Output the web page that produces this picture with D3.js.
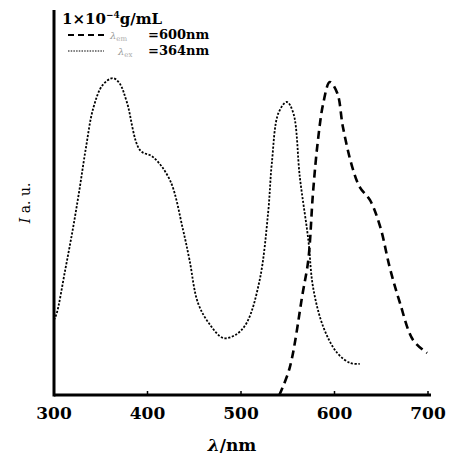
<!DOCTYPE html>
<html>
<head>
<meta charset="utf-8">
<script src="https://cdn.jsdelivr.net/npm/d3@7"></script>
<style>
  body { margin: 0; background: #fff; }
  text { font-family: "DejaVu Serif", "Liberation Serif", serif; fill: #000; }
</style>
</head>
<body>
<div id="chart"></div>
<script>
//
// Fluorescence excitation / emission spectra
//
const xTicks = [300, 400, 500, 600, 700]

// excitation spectrum (dotted)
const exWave = [300, 303, 312, 320, 327, 334, 342, 352, 363, 370, 378, 392, 406, 424, 438, 445, 454, 467, 481, 494, 506, 520, 529, 533, 540, 549, 556, 563, 572, 577, 588, 603, 617, 627]
const exInt  = [19.5, 21.3, 32.5, 42.9, 53, 64, 74.5, 80.5, 82.3, 81, 76, 63.6, 61.8, 55.8, 42.9, 35, 23.9, 18.2, 14.8, 15.6, 18.7, 29.9, 47.3, 60.3, 73.2, 76.1, 73.2, 56.4, 40.3, 28.1, 17.7, 10.9, 8.3, 8.1]

// emission spectrum (dashed)
const emWave = [541, 552, 566, 572, 577, 582, 588, 595, 603, 609, 619, 627, 638, 649, 659, 670, 684, 699]
const emInt  = [0, 7, 26.5, 35.1, 52.5, 65.5, 75.8, 81.3, 78.4, 69.6, 59.2, 54, 50.6, 43.6, 33.2, 23.9, 14.3, 10.9]

const W = 453, H = 455
const margin = { left: 54, right: 25, top: 10, bottom: 60 }

const svg = d3.select("#chart").append("svg")
  .attr("width", W).attr("height", H)

const x = d3.scaleLinear().domain([300, 700]).range([margin.left, 428])
const y = d3.scaleLinear().domain([0, 100]).range([H - margin.bottom, margin.top])

// axes
svg.append("line")
  .attr("x1", x(300)).attr("x2", 431)
  .attr("y1", y(0)).attr("y2", y(0))
  .attr("stroke", "#000").attr("stroke-width", 3)
svg.append("line")
  .attr("x1", x(300)).attr("x2", x(300))
  .attr("y1", y(0) + 1.5).attr("y2", y(100))
  .attr("stroke", "#000").attr("stroke-width", 3)

svg.selectAll("tick")
  .data(xTicks.slice(1))
  .enter().append("line")
    .attr("x1", d => x(d)).attr("x2", d => x(d))
    .attr("y1", y(0)).attr("y2", y(0) - 4)
    .attr("stroke", "#000").attr("stroke-width", 1.5)

svg.selectAll("ticklabel")
  .data(xTicks)
  .enter().append("text")
    .attr("x", d => x(d))
    .attr("y", 419)
    .attr("text-anchor", "middle")
    .attr("font-size", 17)
    .attr("font-weight", "bold")
    .text(d => d)

// axis titles
const xt = svg.append("text")
  .attr("x", 232).attr("y", 451)
  .attr("text-anchor", "middle")
  .attr("font-size", 17).attr("font-weight", "bold")
xt.append("tspan").attr("font-style", "italic").text("λ")
xt.append("tspan").text("/nm")

const yt = svg.append("text")
  .attr("transform", "translate(30,203) rotate(-90)")
  .attr("text-anchor", "middle")
  .attr("font-size", 14)
yt.append("tspan").attr("font-style", "italic").text("I")
yt.append("tspan").text(" a. u.")

// curves
const line = d3.line()
  .x(d => x(d[0]))
  .y(d => y(d[1]))
  .curve(d3.curveCatmullRom.alpha(0.5))

svg.append("path")
  .datum(d3.zip(exWave, exInt))
  .attr("d", line)
  .attr("fill", "none")
  .attr("stroke", "#000")
  .attr("stroke-width", 1.8)
  .attr("stroke-dasharray", "2.2,1.6")

svg.append("path")
  .datum(d3.zip(emWave, emInt))
  .attr("d", line)
  .attr("fill", "none")
  .attr("stroke", "#000")
  .attr("stroke-width", 2.6)
  .attr("stroke-dasharray", "8,5")

// legend
const lg = svg.append("g")
const t1 = lg.append("text")
  .attr("x", 62).attr("y", 24)
  .attr("font-size", 15).attr("font-weight", "bold")
t1.append("tspan").text("1×10")
t1.append("tspan").attr("font-size", 9).attr("dy", -6).text("−4")
t1.append("tspan").attr("dy", 6).text("g/mL")

lg.append("line")
  .attr("x1", 68).attr("x2", 104).attr("y1", 35).attr("y2", 35)
  .attr("stroke", "#000").attr("stroke-width", 2).attr("stroke-dasharray", "6,4")
const t2 = lg.append("text").attr("x", 110).attr("y", 39).attr("font-size", 13)
t2.append("tspan").attr("font-style", "italic").attr("fill", "#999").attr("font-size", 10).text("λ")
t2.append("tspan").attr("fill", "#aaa").attr("font-size", 7).attr("dy", 2).text("em")
t2.append("tspan").attr("dy", -2).attr("x", 148).attr("font-weight", "bold").text("=600nm")

lg.append("line")
  .attr("x1", 68).attr("x2", 104).attr("y1", 51).attr("y2", 51)
  .attr("stroke", "#000").attr("stroke-width", 1.2).attr("stroke-dasharray", "1.5,1.2")
const t3 = lg.append("text").attr("x", 118).attr("y", 55).attr("font-size", 13)
t3.append("tspan").attr("font-style", "italic").attr("fill", "#999").attr("font-size", 10).text("λ")
t3.append("tspan").attr("fill", "#aaa").attr("font-size", 7).attr("dy", 2).text("ex")
t3.append("tspan").attr("dy", -2).attr("x", 148).attr("font-weight", "bold").text("=364nm")
</script>
</body>
</html>
